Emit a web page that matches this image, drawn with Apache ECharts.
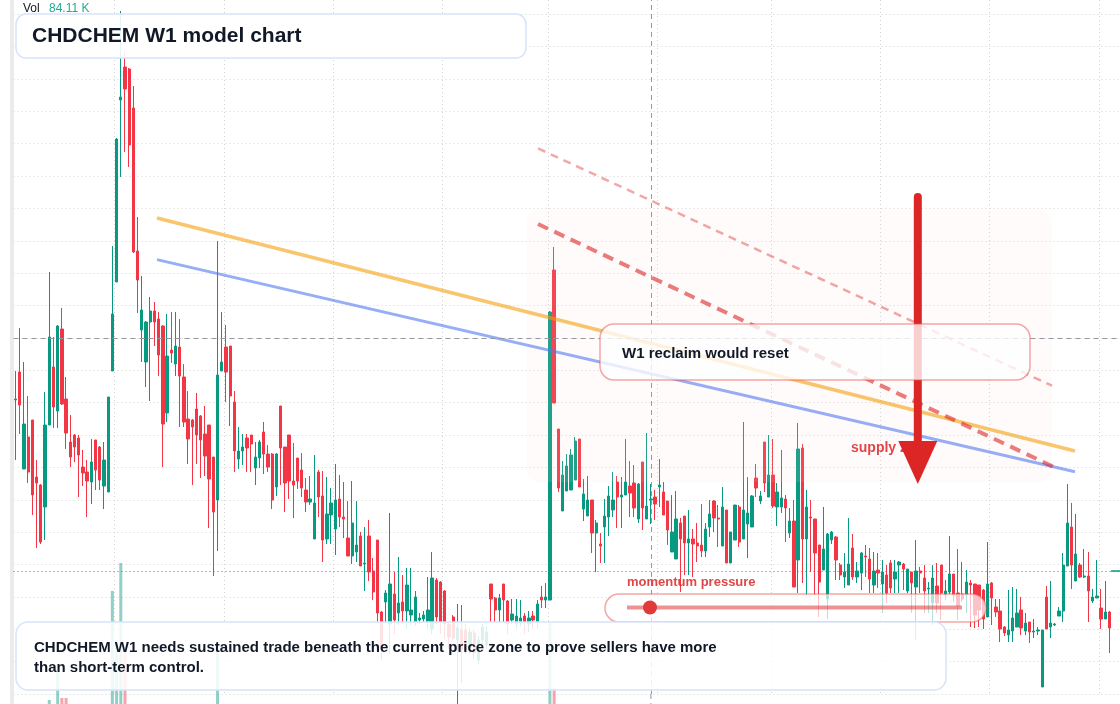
<!DOCTYPE html>
<html>
<head>
<meta charset="utf-8">
<script src="https://cdn.jsdelivr.net/npm/echarts@6/dist/echarts.min.js"></script>
<style>
html,body{margin:0;padding:0;background:#ffffff;}
#c{width:1120px;height:704px;}
</style>
</head>
<body>
<div id="c"></div>
<script>
// ---------- DATA ----------
const weeks = Array.from({length: 263}, (_, i) => 'W' + (i + 1));

// [open, close, low, high]
const candles = [
[294,295,234,323],[322,289,260,366],[225,270,225,332],[257,222,211,298],[274,199,179,274],
[217,211,146,234],[209,152,150,210],[187,269,154,302],[269,357,269,422],[327,287,266,357],
[283,368,266,369],[365,290,289,386],[295,261,245,317],[252,237,227,279],[259,247,232,260],
[256,239,197,259],[227,221,208,244],[222,213,177,234],[212,232,190,255],[254,224,204,254],
[247,214,204,248],[208,234,185,252],[202,297,202,297],[323,380,323,448],[412,555,412,556],
[594,597,517,683],[627,605,542,643],[625,549,527,626],[586,442,441,608],[443,414,381,477],
[364,384,332,418],[332,372,307,373],[372,383,293,397],[383,372,348,392],[375,339,318,382],
[368,270,227,369],[281,338,272,380],[344,341,331,382],[330,348,318,382],[347,318,267,375],
[317,272,267,330],[275,255,230,303],[274,267,209,275],[285,259,230,301],[278,254,216,279],
[260,238,218,288],[269,215,166,269],[237,182,118,237],[194,319,143,453],[323,332,323,382],
[347,322,292,369],[348,298,268,348],[292,243,222,303],[235,243,225,267],[243,247,229,260],
[256,246,222,260],[259,250,222,259],[226,237,209,252],[236,252,226,254],[262,240,220,272],
[240,227,222,249],[240,194,185,241],[207,240,198,241],[288,246,209,288],[247,211,182,247],
[259,213,195,259],
[213,209,176,251],[236,213,205,236],[224,206,197,241],[204,192,182,216],[192,195,189,218],
[155,191,155,239],[222,197,177,224],[198,154,132,223],[155,180,150,217],[179,191,150,206],
[165,194,139,230],[195,177,167,219],[177,175,156,212],[156,138,138,193],[138,171,130,213],
[142,149,132,193],[158,128,128,162],[130,131,103,167],[158,122,113,174],[123,102,94,136],
[154,81,72,154],[82,45,34,83],[92,101,72,104],[70,110,40,181],[100,74,60,122],
[81,91,69,137],[92,83,70,119],[83,109,65,126],[79,84,69,126],[72,97,68,103],
[74,76,70,81],[75,79,72,83],[72,84,65,117],[65,116,60,142],[114,77,70,116],
[112,72,60,113],[103,70,55,104],[70,57,45,72],[77,56,54,79],[54,66,-12,90],
[64,44,11,89],[64,44,40,70],[47,62,40,66],[61,41,35,64],[34,54,30,58],
[54,67,50,70],[49,62,45,68],[110,95,72,110],[96,84,72,97],[84,96,72,100],
[110,94,72,110],[93,70,60,94],[74,80,70,95],[70,78,65,95],[72,76,68,94],
[78,72,60,81],[70,76,62,83],[78,74,65,83],[72,90,65,94],[97,94,86,108],
[94,97,86,111],[94,382,94,383],[424,291,291,447],[265,206,202,265],[183,219,183,233],
[203,228,203,240],[204,239,204,245],[214,253,214,257],[255,207,207,255],[185,200,173,215],
[178,194,178,218],[194,161,141,194],[161,171,122,174],[150,148,131,161],[167,178,131,195],
[177,198,158,208],[184,194,177,222],[212,197,166,218],[197,199,166,217],[199,212,199,255],
[208,201,177,233],[211,186,177,229],[175,210,171,211],[232,186,164,232],[175,188,175,261],
[194,195,170,210],[197,190,174,204],[207,209,187,235],[202,179,179,212],[193,164,149,193],
[142,162,142,199],[135,175,135,203],[171,155,102,176],[178,151,119,178],[151,155,119,184],
[155,150,117,165],[151,148,132,171],[149,143,137,190],[143,165,137,171],[167,180,157,194],
[193,176,162,194],[176,175,147,189],[148,187,148,207],[184,131,131,184],[131,162,131,162],
[154,189,154,189],[187,152,147,189],[155,184,155,272],[170,181,136,217],[167,198,167,199],
[216,206,197,230],[193,198,190,203],[252,211,202,252],[197,219,197,259],[219,188,186,255],
[187,202,168,211],[187,196,181,244],[195,186,152,199],[161,173,156,186],[173,107,107,194],
[134,245,101,271],[246,155,111,250],[155,187,98,204],[177,176,122,194],[175,141,99,175],
[149,112,77,149],[124,145,124,187],[95,160,75,161],[154,162,150,163],[157,134,114,158],
[129,119,114,131],
[117,122,106,141],[109,130,109,176],[146,117,114,160],[117,123,111,132],[121,141,104,142],
[138,137,117,149],[135,115,101,146],[109,123,101,142],[124,121,106,141],[110,122,81,134],
[119,101,91,129],[131,106,101,134],[115,122,101,134],[129,132,101,133],[130,125,104,131],
[103,125,101,125],[122,111,81,122],[107,123,54,154],[123,121,101,127],[116,103,81,129],
[105,106,81,112],[91,116,69,129],[108,91,81,131],[129,101,74,129],[99,103,94,114],
[102,120,100,158],[120,99,92,120],[101,88,74,145],[100,95,92,132],[99,112,81,124],
[111,109,67,114],[110,79,66,110],[109,84,67,109],[104,75,65,105],[77,110,77,152],
[111,96,69,112],[87,82,77,95],[83,65,52,95],[67,61,58,68],[59,64,52,104],
[63,76,52,107],[67,81,67,105],[84,66,59,97],[63,71,59,81],[72,62,51,72],
[62,63,56,75],[63,64,59,67],[7,64,7,64],[97,65,65,108],[67,71,56,113],
[69,70,68,71],[78,83,78,87],[83,129,72,141],[128,171,128,210],[167,129,105,191],
[113,140,113,180],[129,117,116,131],[117,118,116,145],[118,103,72,142],[93,97,91,105],
[96,98,96,134],[86,75,65,105],[75,82,75,113],[82,66,41,83]
];

// volume in thousands
const volumes = [
150,180,210,160,190,140,230,170,408,200,756,432,432,180,150,130,120,140,160,130,
120,150,260,1716,1128,2052,1008,320,290,240,210,180,170,160,150,190,210,170,140,130,
150,140,160,130,150,140,170,210,1104,260,190,170,150,120,110,100,120,110,130,120,
110,150,140,160,150,140,130,120,110,100,90,130,120,140,110,100,120,110,100,120,
110,100,120,130,140,150,170,160,130,180,150,130,120,140,110,100,90,120,150,130,
140,130,120,110,130,150,170,140,120,110,100,120,110,140,130,120,130,110,100,110,
100,110,100,120,110,130,150,1344,552,300,240,220,230,250,200,180,170,190,160,150,
140,150,160,170,150,160,180,150,140,160,170,180,140,130,150,140,160,150,170,150,
140,130,120,130,140,130,150,140,160,190,150,170,160,210,180,170,160,150,180,170,
160,140,150,140,170,210,290,270,220,180,190,200,180,210,160,150,140,130,150,140,
130,120,130,140,120,130,120,140,130,120,110,100,120,150,130,110,120,130,120,140,
130,120,140,130,120,110,140,120,130,140,120,170,130,110,140,110,120,110,100,120,
110,100,90,90,260,150,120,90,100,180,260,200,150,120,110,140,100,110,120,100,
84.11
];

const gridWeeks = [24, 50, 76, 102, 127, 153, 180, 206, 232, 258];
const priceLevel = 123;
const crossPrice = 356;
const crossIndex = 151;

// overlay lines in [week position, price]
const orangeTrend = [[33.61, 476], [251.8, 243]];
const blueTrend = [[33.61, 434.4], [251.8, 222.3]];
const resistDash = [[124.17, 470], [247.05, 226.5]];
const upperDash = [[124.17, 545.6], [246.34, 308.3]];
const zoneBox = [[121.55, 484], [246.34, 212]];
const arrowTop = [214.44, 497];
const arrowHeadBase = [214.44, 253];
const arrowTip = [214.44, 210];
const supplyLabelAt = [198.57, 246];

// ---------- CHART ----------
const FONT = '"Liberation Sans", Arial, sans-serif';
const UP = '#089981', DOWN = '#f23645';
const chart = echarts.init(document.getElementById('c'), null, {renderer: 'canvas', width: 1120, height: 704});

const option = {
  animation: false,
  backgroundColor: '#ffffff',
  grid: [
    {left: 13.5, right: 0, top: 0, bottom: 10, containLabel: false, outerBoundsMode: 'none'},
    {left: 13.5, right: 0, top: 434, bottom: -30, containLabel: false, outerBoundsMode: 'none'}
  ],
  xAxis: [
    {type: 'category', gridIndex: 0, data: weeks, boundaryGap: true,
      axisLine: {show: false}, axisTick: {show: false}, axisLabel: {show: false},
      splitLine: {show: true, interval: (i) => gridWeeks.includes(i),
        lineStyle: {color: '#d2d2d2', width: 1, type: [1, 3]}}},
    {type: 'value', gridIndex: 0, min: -0.5, max: weeks.length - 0.5, show: false},
    {type: 'category', gridIndex: 1, data: weeks, boundaryGap: true, show: false}
  ],
  yAxis: [
    {type: 'value', gridIndex: 0, min: 0, max: 694, interval: 32.37,
      axisLine: {show: false}, axisTick: {show: false}, axisLabel: {show: false},
      splitLine: {show: true, showMaxLine: false, lineStyle: {color: '#d2d2d2', width: 1, type: [1, 3]}}},
    {type: 'value', gridIndex: 1, min: 0, max: 3600, show: false}
  ],
  series: [
    {
      type: 'bar', xAxisIndex: 2, yAxisIndex: 1, data: volumes, barWidth: 3, z: 1, silent: true,
      itemStyle: {color: (p) => candles[p.dataIndex][1] >= candles[p.dataIndex][0] ? 'rgba(8,153,129,0.45)' : 'rgba(242,54,69,0.45)'}
    },
    {
      type: 'candlestick', xAxisIndex: 0, yAxisIndex: 0, data: candles, barWidth: 2.8, clip: false, z: 2, silent: true,
      itemStyle: {color: UP, color0: DOWN, borderColor: UP, borderColor0: DOWN, borderWidth: 1},
      markLine: {
        silent: true, symbol: ['none', 'none'], label: {show: false}, animation: false,
        data: [
          {yAxis: priceLevel, lineStyle: {color: UP, width: 1, type: [1, 3]}},
          {yAxis: crossPrice, lineStyle: {color: '#9598a1', width: 1, type: [5, 4]}},
          {xAxis: weeks[crossIndex], lineStyle: {color: '#9598a1', width: 1, type: [5, 4]}}
        ]
      }
    },
    {type: 'line', xAxisIndex: 1, yAxisIndex: 0, data: orangeTrend, symbol: 'none', z: 4, silent: true,
      lineStyle: {color: 'rgba(245,158,11,0.6)', width: 3.5}},
    {type: 'line', xAxisIndex: 1, yAxisIndex: 0, data: blueTrend, symbol: 'none', z: 4, silent: true,
      lineStyle: {color: 'rgba(80,120,240,0.6)', width: 3}},
    {type: 'line', xAxisIndex: 1, yAxisIndex: 0, data: resistDash, symbol: 'none', z: 4, silent: true,
      lineStyle: {color: 'rgba(220,38,38,0.6)', width: 4, type: [11, 7]}},
    {type: 'line', xAxisIndex: 1, yAxisIndex: 0, data: upperDash, symbol: 'none', z: 4, silent: true,
      lineStyle: {color: 'rgba(220,38,38,0.4)', width: 2.5, type: [8, 6]}}
  ]
};
chart.setOption(option);

const px = (pt) => chart.convertToPixel({seriesIndex: 2}, pt);
const z1 = px(zoneBox[0]), z2 = px(zoneBox[1]);
const aTop = px(arrowTop), aBase = px(arrowHeadBase), aTip = px(arrowTip);
const sup = px(supplyLabelAt);
const yPrice = chart.convertToPixel({yAxisIndex: 0}, priceLevel);
const xCross = chart.convertToPixel({xAxisIndex: 0}, weeks[crossIndex]);

const txt = (x, y, text, font, fill, z) => ({
  type: 'text', x: x, y: y, z: z, silent: true,
  style: {text: text, font: font, fill: fill, align: 'left', verticalAlign: 'middle', textAlign: 'left', textVerticalAlign: 'middle'}
});

chart.setOption({
  graphic: [
    {type: 'rect', z: 1, silent: true, shape: {x: 10, y: 0, width: 4, height: 704}, style: {fill: '#ebebeb'}},
    {type: 'rect', z: 3, silent: true, shape: {x: z1[0], y: z1[1], width: z2[0] - z1[0], height: z2[1] - z1[1], r: 12},
      style: {fill: 'rgba(245,222,205,0.11)'}},
    {type: 'line', z: 3, silent: true, shape: {x1: 1111, y1: yPrice, x2: 1120, y2: yPrice}, style: {stroke: UP, lineWidth: 1.5}},
    {type: 'line', z: 3, silent: true, shape: {x1: xCross, y1: 694, x2: xCross, y2: 704},
      style: {stroke: '#9598a1', lineWidth: 1, lineDash: [5, 4]}},
    txt(sup[0], sup[1], 'supply zone', 'bold 14px ' + FONT, 'rgba(220,38,38,0.85)', 5),
    {type: 'line', z: 6, silent: true, shape: {x1: aTop[0], y1: aTop[1], x2: aTop[0], y2: aBase[1] + 2},
      style: {stroke: '#dc2626', lineWidth: 8, lineCap: 'round'}},
    {type: 'polygon', z: 6, silent: true, shape: {points: [[aBase[0] - 19.5, aBase[1]], [aBase[0] + 19.5, aBase[1]], [aTip[0], aTip[1]]]},
      style: {fill: '#dc2626'}},
    // reclaim box
    {type: 'rect', z: 8, silent: true, shape: {x: 600, y: 324, width: 430, height: 56, r: 14},
      style: {fill: 'rgba(255,255,255,0.78)', stroke: 'rgba(232,80,80,0.5)', lineWidth: 1.5}},
    txt(622, 354, 'W1 reclaim would reset', 'bold 15px ' + FONT, '#111827', 9),
    // momentum pill
    txt(627, 582.5, 'momentum pressure', 'bold 13px ' + FONT, 'rgba(220,38,38,0.85)', 9),
    {type: 'rect', z: 8, silent: true, shape: {x: 605, y: 594, width: 381, height: 28, r: 14},
      style: {fill: 'rgba(255,255,255,0.7)', stroke: 'rgba(232,80,80,0.5)', lineWidth: 1.5}},
    {type: 'line', z: 9, silent: true, shape: {x1: 627, y1: 607.5, x2: 962, y2: 607.5},
      style: {stroke: 'rgba(220,38,38,0.5)', lineWidth: 4}},
    {type: 'circle', z: 9, silent: true, shape: {cx: 650, cy: 607.5, r: 7}, style: {fill: '#e03a3a'}},
    // note box
    {type: 'rect', z: 10, silent: true, shape: {x: 16, y: 622, width: 930, height: 68, r: 12},
      style: {fill: 'rgba(255,255,255,0.86)', stroke: '#d6e4fa', lineWidth: 1.5}},
    txt(34, 648, 'CHDCHEM W1 needs sustained trade beneath the current price zone to prove sellers have more', 'bold 15px ' + FONT, '#111827', 11),
    txt(34, 668, 'than short-term control.', 'bold 15px ' + FONT, '#111827', 11),
    // title box
    {type: 'rect', z: 10, silent: true, shape: {x: 16, y: 14, width: 510, height: 44, r: 10},
      style: {fill: 'rgba(255,255,255,0.9)', stroke: '#d6e4fa', lineWidth: 1.5}},
    txt(32, 36.3, 'CHDCHEM W1 model chart', 'bold 21px ' + FONT, '#111827', 11),
    // volume legend
    txt(23, 8.7, 'Vol', '12px ' + FONT, '#131722', 11),
    txt(49, 8.7, volumes[volumes.length - 1].toFixed(2) + ' K', '12px ' + FONT, '#22ab94', 11)
  ]
});
</script>
</body>
</html>
